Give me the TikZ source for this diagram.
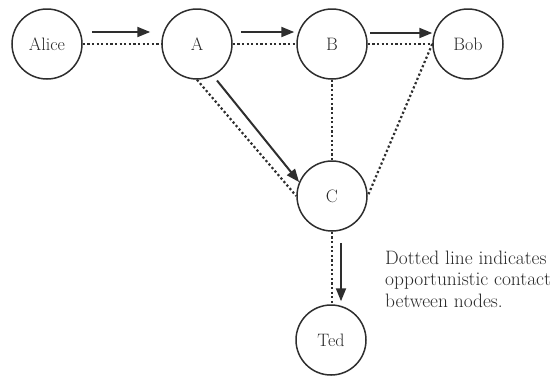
\documentclass[tikz,border=0pt]{standalone}
\usepackage{fontspec}
\usetikzlibrary{arrows.meta,calc}
\definecolor{ink}{HTML}{2E2E2E}
\definecolor{txt}{HTML}{2A2A2A}
\tikzset{
  peer/.style={circle, draw=ink, line width=1.5pt, minimum size=70pt, inner sep=0pt,
    text=txt, font=\rmfamily\fontsize{18}{20}\selectfont},
  contact/.style={draw=ink, line width=2.2pt, dash pattern=on 2.2pt off 2.4pt},
  flow/.style={draw=ink, line width=2pt,
    -{Triangle[length=13pt,width=10pt]}},
}
\begin{document}
\begin{tikzpicture}[x=1pt,y=-1pt]
\useasboundingbox (0,0) rectangle (556,376);

% peers
\node[peer] (alice) at (47,44)  {Alice};
\node[peer] (a)     at (197,44) {A};
\node[peer] (b)     at (332,44) {B};
\node[peer] (bob)   at (468,44) {Bob};
\node[peer] (c)     at (332,196) {C};
\node[peer] (ted)   at (331,340) {Ted};

% opportunistic contacts
\draw[contact] (alice.east) -- (a.west);
\draw[contact] (a.east) -- (b.west);
\draw[contact] (b.east) -- (bob.west);
\draw[contact] (a.south) -- (c.west);
\draw[contact] (b.south) -- (c.north);
\draw[contact] (bob.west) -- (c.east);
\draw[contact] (c.south) -- (c.south |- ted.north);

% message path
\draw[flow, shorten <=9pt, shorten >=11pt] ([yshift=12pt]alice.east) -- ([yshift=12pt]a.west);
\draw[flow, shorten <=8pt, shorten >=2pt] ([yshift=12pt]a.east) -- ([yshift=12pt]b.west);
\draw[flow, shorten <=2pt, shorten >=0pt] ([yshift=11pt]b.east) -- ([yshift=11pt]bob.west);
\draw[flow, shorten <=6pt] (a.-63) -- (c.157);
\draw[flow, shorten <=11pt, shorten >=3pt] ([xshift=9pt]c.south) -- ([xshift=9pt]c.south |- ted.north);

% legend
\node[anchor=base west, align=left, text=txt, inner sep=0pt,
  font=\rmfamily\fontsize{19.4}{21.5}\selectfont] (note) at (385,307)
  {Dotted line indicates\\opportunistic contact\\between nodes.};
\end{tikzpicture}
\end{document}
